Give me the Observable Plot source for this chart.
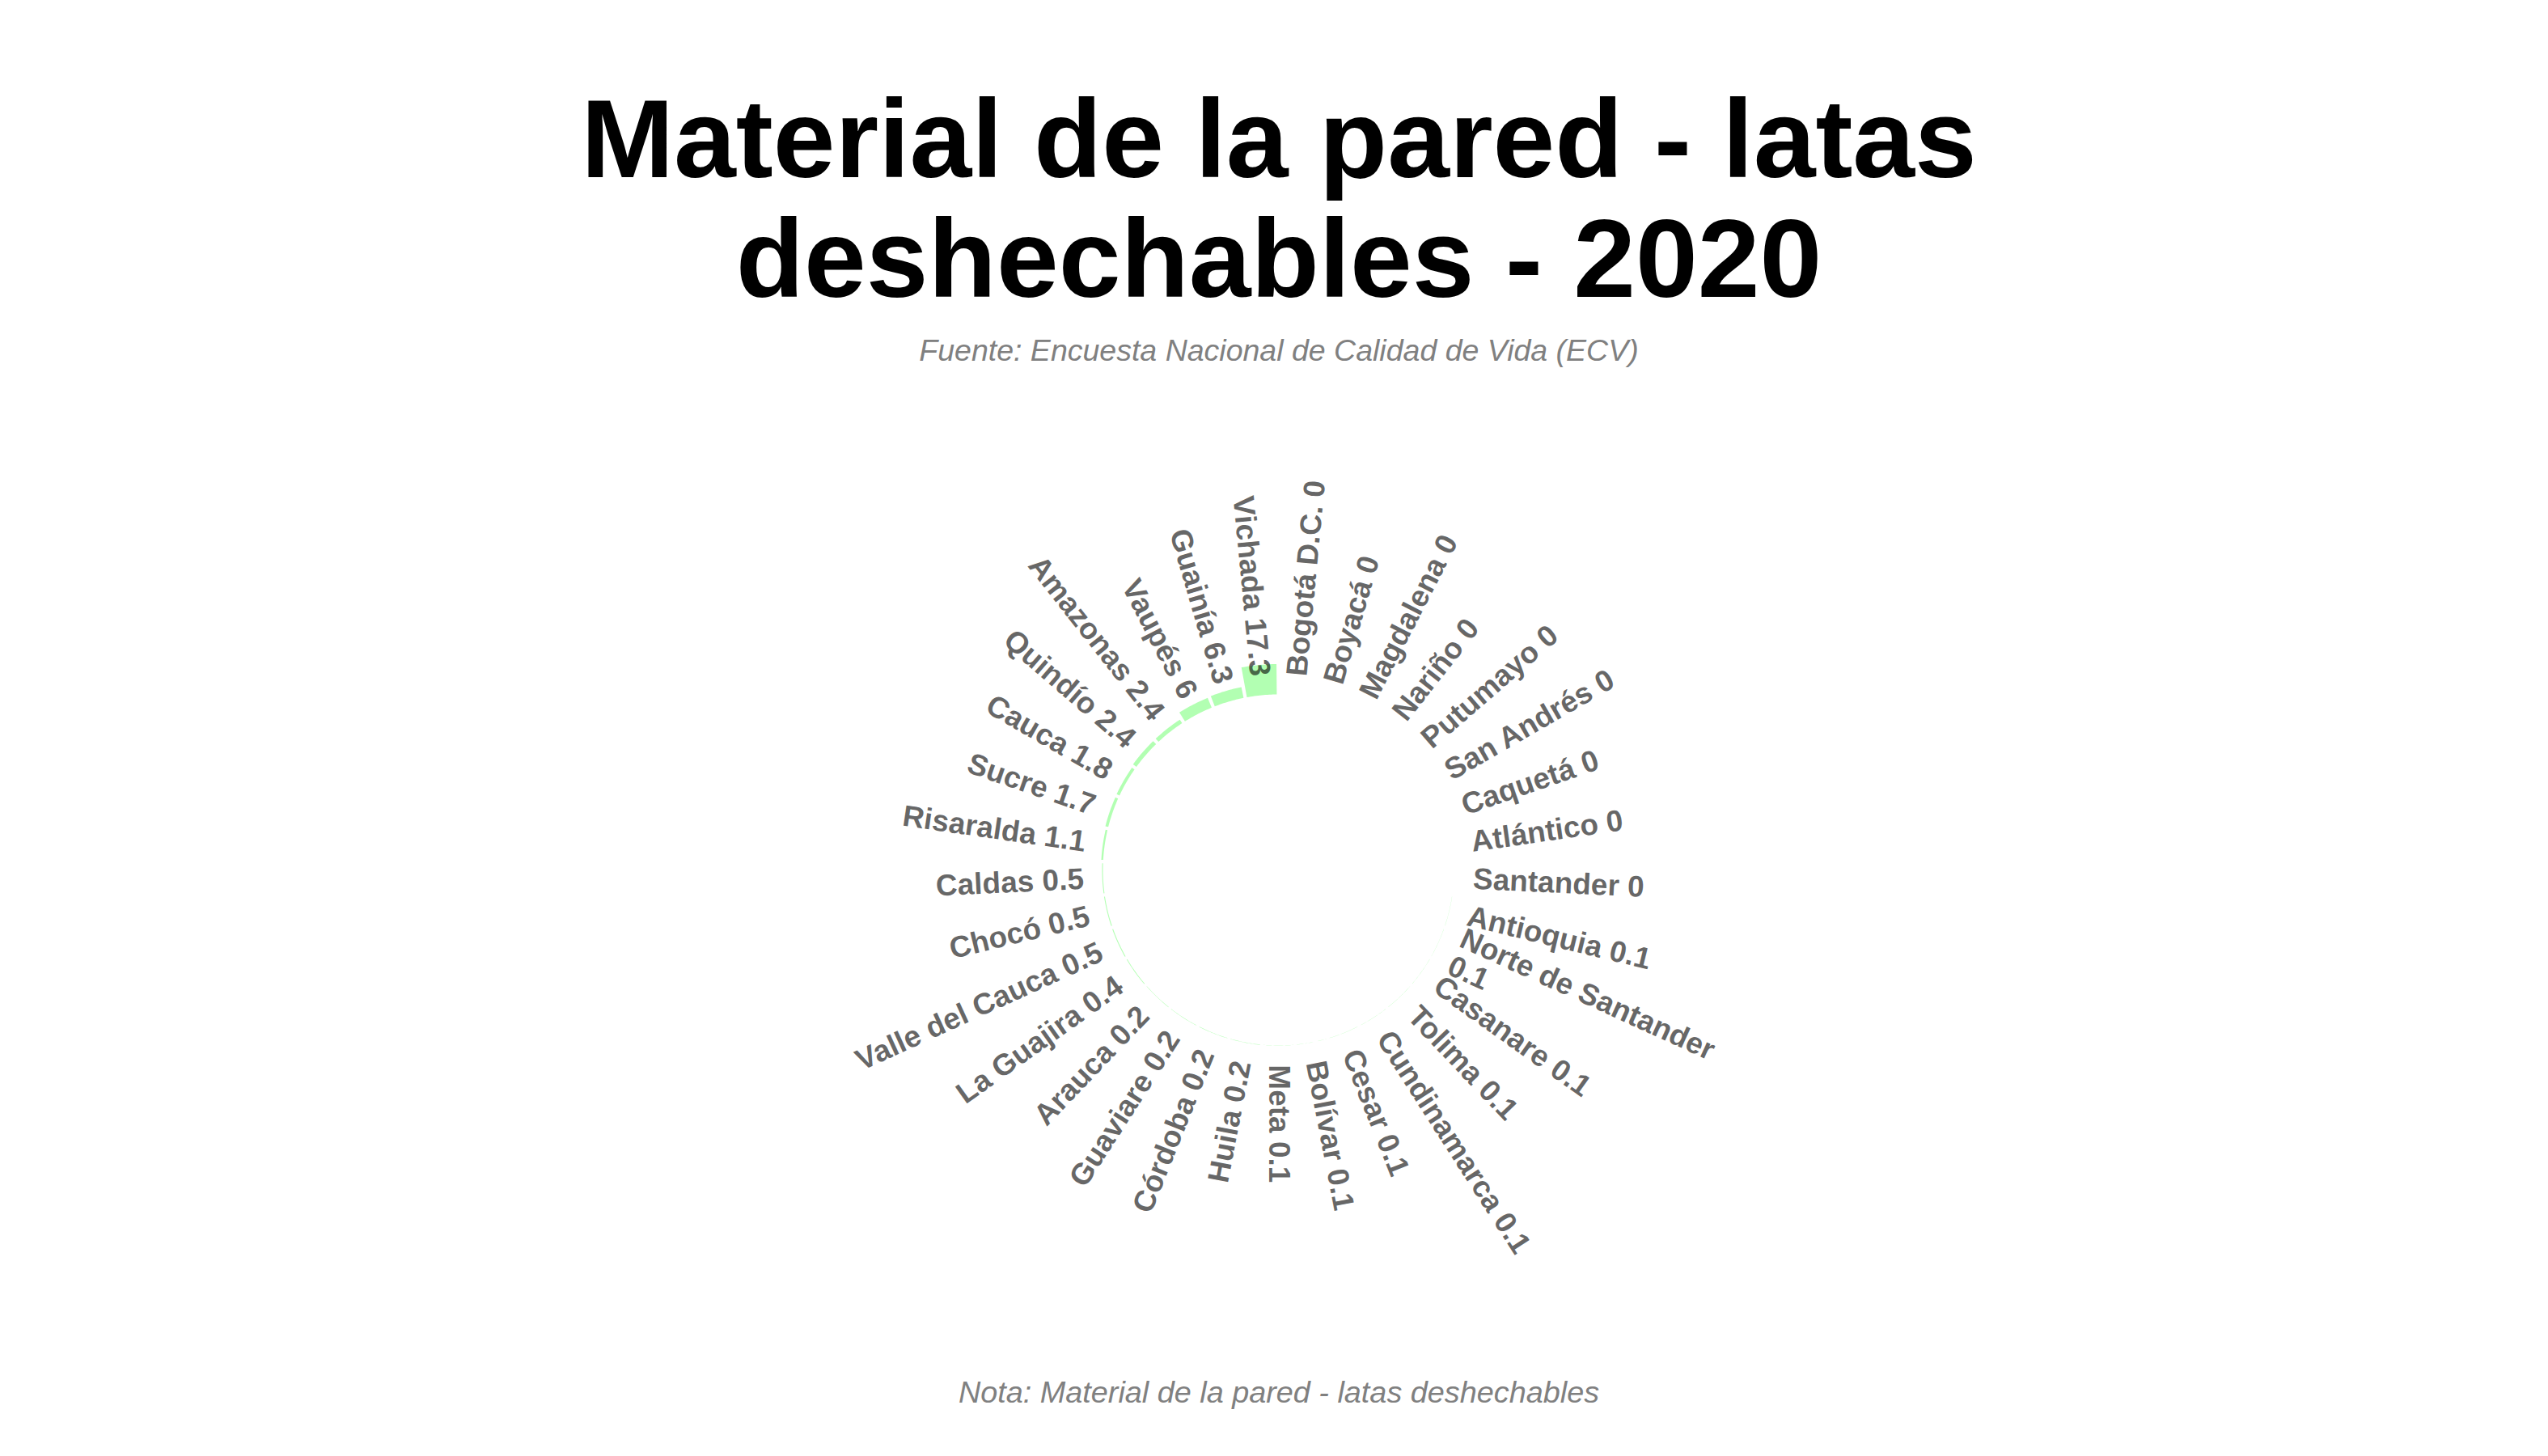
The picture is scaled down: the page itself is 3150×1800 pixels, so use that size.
<!DOCTYPE html>
<html>
<head>
<meta charset="utf-8">
<script src="https://cdn.jsdelivr.net/npm/d3@7"></script>
<script src="https://cdn.jsdelivr.net/npm/@observablehq/plot@0.6"></script>
<style>
  html, body { margin: 0; padding: 0; background: #ffffff; }
  body { width: 3150px; height: 1800px; position: relative; overflow: hidden;
         font-family: "Liberation Sans", Arial, Helvetica, sans-serif; }
  #title { position: absolute; left: 12px; width: 3138px; top: 97px; margin: 0;
           text-align: center; font-weight: bold; font-size: 138px; line-height: 148px; color: #000; }
  #subtitle { position: absolute; left: 12px; width: 3138px; top: 411px; margin: 0;
              text-align: center; font-style: italic; font-size: 37.5px; line-height: 44px; color: #808080; }
  #chart { position: absolute; left: 0; top: 460px; }
  #caption { position: absolute; left: 12px; width: 3138px; top: 1699px; margin: 0;
             text-align: center; font-style: italic; font-size: 37.8px; line-height: 44px; color: #808080; }
</style>
</head>
<body>
<h1 id="title">Material de la pared - latas<br>deshechables - 2020</h1>
<div id="subtitle">Fuente: Encuesta Nacional de Calidad de Vida (ECV)</div>
<div id="chart"></div>
<div id="caption">Nota: Material de la pared - latas deshechables</div>
<script>
// ---- Data ----
const departamentos = [
  "Bogotá D.C.", "Boyacá", "Magdalena", "Nariño", "Putumayo", "San Andrés",
  "Caquetá", "Atlántico", "Santander", "Antioquia", "Norte de Santander",
  "Casanare", "Tolima", "Cundinamarca", "Cesar", "Bolívar", "Meta",
  "Huila", "Córdoba", "Guaviare", "Arauca", "La Guajira", "Valle del Cauca",
  "Chocó", "Caldas", "Risaralda", "Sucre", "Cauca", "Quindío", "Amazonas",
  "Vaupés", "Guainía", "Vichada"
];
const valores = [
  0, 0, 0, 0, 0, 0,
  0, 0, 0, 0.1, 0.1,
  0.1, 0.1, 0.1, 0.1, 0.1, 0.1,
  0.2, 0.2, 0.2, 0.2, 0.4, 0.5,
  0.5, 0.5, 1.1, 1.7, 1.8, 2.4, 2.4,
  6, 6.3, 17.3
];

// ---- Layout constants ----
const W = 3150, H = 1220;
const CX = 1580, CY = 615;       // centre of the polar chart inside the SVG
const HOLE = 100;                // inner hole, in value units (like ylim(-100, ...))
const PX = 2.17;                 // pixels per value unit along the radius
const LABEL_Y = 11;              // radial position of the labels (value units)

const n = departamentos.length;
const step = 360 / n;

// wrap long labels (like str_wrap) before the value
function wrapLabel(name, value) {
  const s = `${name} ${value}`;
  return s.length > 20 ? `${name}\n${value}` : s;
}

// polar "projection": x = angle (degrees, clockwise from top), y = value
const polar = d3.geoTransform({
  point(theta, v) {
    const r = (v + HOLE) * PX;
    const a = theta * Math.PI / 180;
    this.stream.point(CX + r * Math.sin(a), CY - r * Math.cos(a));
  }
});

// bars as annular sectors (width 0.9 of each slot)
const bars = departamentos.map((d, i) => {
  const t0 = (i + 0.05) * step, t1 = (i + 0.95) * step;
  const v = valores[i];
  const ts = d3.range(0, 17).map(k => t0 + (t1 - t0) * k / 16);
  const ring = [
    ...ts.map(t => [t, 0]),
    ...ts.slice().reverse().map(t => [t, v]),
    [t0, 0]
  ];
  return {type: "Feature", properties: {name: d, value: v},
          geometry: {type: "Polygon", coordinates: [ring]}};
});

const labels = departamentos.map((d, i) => {
  const theta = (i + 0.5) * step;
  const flip = (2 * i + 1) > n;
  return {
    label: wrapLabel(d, valores[i]),
    theta,
    r: LABEL_Y,
    rotate: flip ? theta - 270 : theta - 90,
    flip
  };
});

const textStyle = {
  x: "theta", y: "r", text: "label", rotate: "rotate",
  fontFamily: "Liberation Sans, Arial, sans-serif",
  fontWeight: "bold", fontSize: 37,
  fill: "black", fillOpacity: 0.6, lineHeight: 1.0
};

const chart = Plot.plot({
  width: W, height: H,
  margin: 0,
  projection: polar,
  style: {background: "transparent", overflow: "visible"},
  marks: [
    Plot.geo(bars, {fill: "#00ff00", fillOpacity: 0.3, stroke: "none"}),
    Plot.text(labels.filter(d => !d.flip), {...textStyle, textAnchor: "start"}),
    Plot.text(labels.filter(d => d.flip), {...textStyle, textAnchor: "end"})
  ]
});
document.getElementById("chart").appendChild(chart);
</script>
</body>
</html>
